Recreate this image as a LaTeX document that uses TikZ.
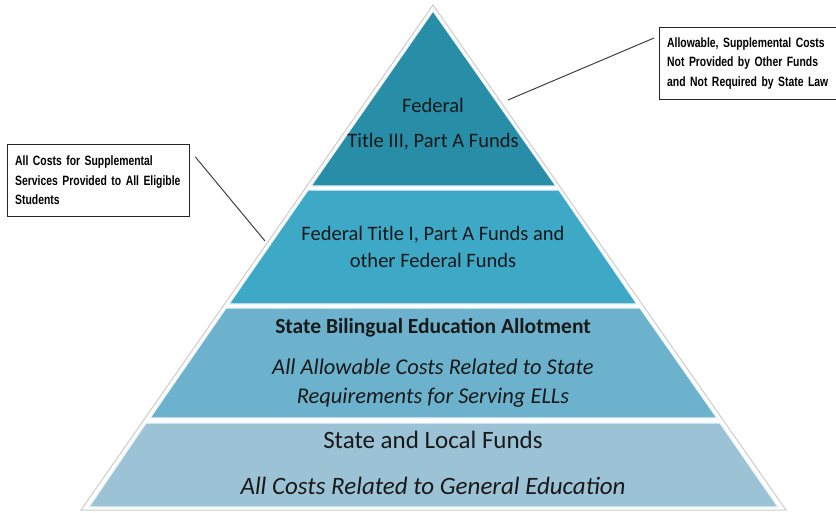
\documentclass[tikz,border=0pt]{standalone}
\usepackage{fontspec}
\setmainfont{Carlito}
\newfontfamily\notefont[FakeStretch=0.77]{Liberation Sans}
\definecolor{tierA}{RGB}{40,142,168}
\definecolor{tierB}{RGB}{62,168,199}
\definecolor{tierC}{RGB}{108,178,205}
\definecolor{tierD}{RGB}{155,195,213}
\tikzstyle{tier} = [draw=white!90!tierB, line width=1.2pt]
\tikzstyle{head} = [align=center, text=black!90, font={\fontsize{20.5}{24}\selectfont}]
\tikzstyle{big} = [head, font={\fontsize{25}{28}\selectfont}]
\tikzstyle{sub} = [head, font={\itshape\fontsize{22.5}{29}\selectfont}]
\tikzstyle{note} = [draw=black!85, fill=white, align=left, anchor=north west, inner xsep=8pt,
  text width=166pt, minimum height=72pt,
  font={\notefont\bfseries\fontsize{13.5}{19.5}\selectfont\hyphenpenalty=10000\relax}]
\tikzstyle{pointer} = [draw=black!75, line width=1pt]

\begin{document}
\begin{tikzpicture}[x=1pt,y=-1pt]
  \useasboundingbox (0,0) rectangle (836,512);
  % outer frame of the pyramid
  \filldraw[draw=black!20, fill=white, line width=1pt] (433,5) -- (786,510) -- (81,510) -- cycle;
  \fill[tier, fill=tierA] (433,11) -- (556,186) -- (311,186) -- cycle;
  \fill[tier, fill=tierB] (308,190) -- (559,190) -- (637,304) -- (229,304) -- cycle;
  \fill[tier, fill=tierC] (226,308) -- (640,308) -- (717,418) -- (150,418) -- cycle;
  \fill[tier, fill=tierD] (146,423) -- (720,423) -- (778,507) -- (89,507) -- cycle;
  \node[head](fed) at (433,105){Federal};
  \node[head](t3) at (433,142){Title III, Part A Funds};
  \node[head](t1) at (433,247){Federal Title I, Part A Funds and\\[3pt] other Federal Funds};
  \node[head, font={\bfseries\fontsize{21.5}{24}\selectfont}](sbea) at (433,328){State Bilingual Education Allotment};
  \node[sub](sreq) at (433,383){All Allowable Costs Related to State\\ Requirements for Serving ELLs};
  \node[big](slf) at (433,440){State and Local Funds};
  \node[sub, font={\itshape\fontsize{25}{28}\selectfont}](gen) at (433,486){All Costs Related to General Education};
  % callouts
  \node[note](rnote) at (659,27){Allowable, Supplemental Costs\\ Not Provided by Other Funds\\ and Not Required by State Law};
  \node[note](lnote) at (7,144){All Costs for Supplemental\\ Services Provided to All Eligible\\ Students};
  \coordinate (rpt) at (508,100);
  \coordinate (lpt) at (265,241);
  \draw[pointer]([xshift=-5pt,yshift=-11pt]rnote.north west) -- (rpt);
  \draw[pointer]([xshift=6pt,yshift=-13pt]lnote.north east) -- (lpt);
\end{tikzpicture}
\end{document}
